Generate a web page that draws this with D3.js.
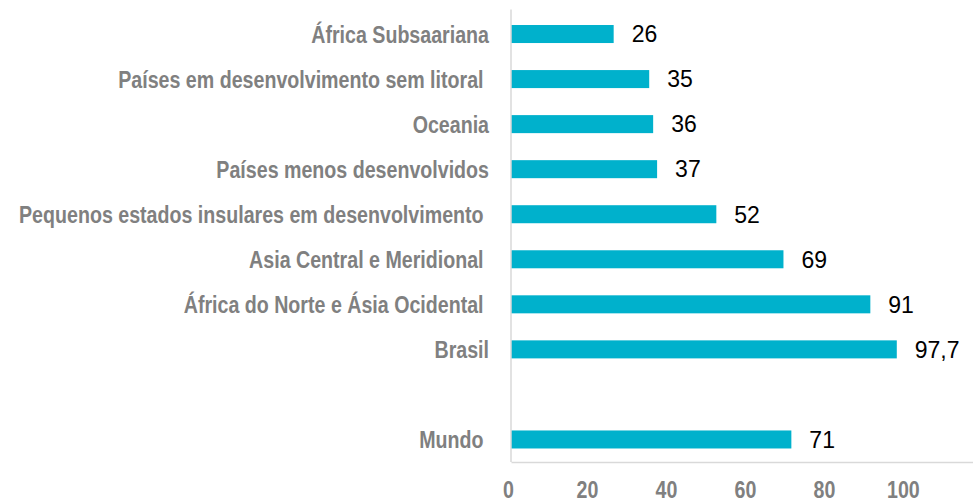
<!DOCTYPE html>
<html>
<head>
<meta charset="utf-8">
<script src="https://cdn.jsdelivr.net/npm/d3@7"></script>
<style>
  body { margin: 0; background: #fff; }
  svg text { white-space: pre; }
</style>
</head>
<body>
<svg id="chart" width="973" height="502"></svg>
<script>
// Categories top to bottom, "" marks the blank slot before Mundo
var categories = ["África Subsaariana", "Países em desenvolvimento sem litoral ", "Oceania", "Países menos desenvolvidos",
   "Pequenos estados insulares em desenvolvimento ", "Asia Central e Meridional ", "África do Norte e Ásia Ocidental ",
   "Brasil", "", "Mundo "];
var values = [26, 35, 36, 37, 52, 69, 91, 97.7, null, 71];
var valueLabels = ["26", "35", "36", "37", "52", "69", "91", "97,7", "", "71"];
var xTicks = [0, 20, 40, 60, 80, 100];

window.onload = function(){
   drawChart();
};

function drawChart() {
   var svg = d3.select("#chart");
   var left = 511, right = 973, top = 11.5, bottom = 462;
   var labelFont = "'Liberation Sans', Arial, sans-serif";

   var x = d3.scaleLinear()
      .domain([0, 117])
      .range([left, right]);

   var y = d3.scaleBand()
      .domain(d3.range(categories.length))
      .range([top, bottom])
      .paddingInner(0.6)
      .paddingOuter(0.3);

   var rows = categories.map(function(c, i){ return {name: c, value: values[i], label: valueLabels[i], i: i}; });

   // bars
   svg.append("g")
      .selectAll("rect")
      .data(rows.filter(function(d){ return d.value != null; }))
      .enter().append("rect")
         .attr("x", x(0))
         .attr("y", function(d){ return y(d.i); })
         .attr("width", function(d){ return x(d.value) - x(0); })
         .attr("height", y.bandwidth())
         .attr("fill", "#00b1cc");

   // value labels
   svg.append("g")
      .selectAll("text")
      .data(rows.filter(function(d){ return d.value != null; }))
      .enter().append("text")
         .attr("x", function(d){ return x(d.value) + 18; })
         .attr("y", function(d){ return y(d.i) + y.bandwidth() / 2; })
         .attr("dy", "0.36em")
         .style("font-family", labelFont)
         .style("font-size", "23px")
         .style("fill", "#000")
         .text(function(d){ return d.label; });

   // category labels: bold, squeezed horizontally to look condensed
   var cats = svg.append("g")
      .selectAll("text")
      .data(rows)
      .enter().append("text")
         .attr("text-anchor", "end")
         .style("font-family", labelFont)
         .style("font-weight", "bold")
         .style("font-size", "24px")
         .style("fill", "#808080")
         .text(function(d){ return d.name.trim(); });

   // widest label should span about 465px, as in the reference
   var widest = d3.max(cats.nodes(), function(n){ return n.getComputedTextLength(); });
   var squeeze = 465 / widest;

   cats.text(function(d){ return d.name; })
      .attr("transform", function(d){
         return "translate(489," + (y(d.i) + y.bandwidth() / 2) + ") scale(" + squeeze + ",1)";
      })
      .attr("dy", "0.36em");

   // axes lines
   svg.append("line")
      .attr("x1", left).attr("x2", left)
      .attr("y1", top - 2).attr("y2", bottom)
      .style("stroke", "#d9d9d9")
      .style("stroke-width", 1.5);

   var xAxis = svg.append("g")
      .attr("transform", "translate(0," + bottom + ")")
      .call(d3.axisBottom(x).tickValues(xTicks).tickSize(0));
   xAxis.select(".domain")
      .style("stroke", "#d9d9d9")
      .style("stroke-width", 1.5);
   xAxis.selectAll(".tick text")
      .attr("y", 36)
      .attr("dy", 0)
      .attr("transform", "translate(-3,0) scale(" + squeeze + ",1)")
      .style("font-family", labelFont)
      .style("font-weight", "bold")
      .style("font-size", "24px")
      .style("fill", "#808080");
}
</script>
</body>
</html>
